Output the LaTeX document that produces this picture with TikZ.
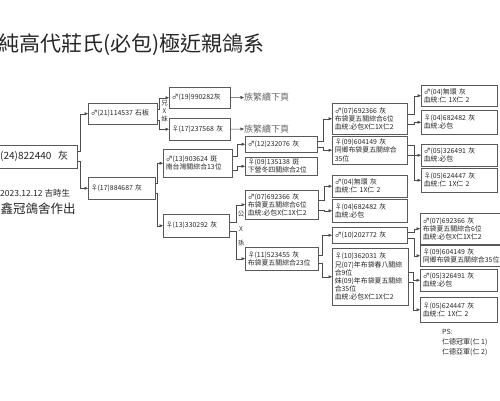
\documentclass[tikz,border=0pt]{standalone}
\usepackage{fontspec}
\setmainfont{Noto Sans CJK TC}
\usetikzlibrary{arrows.meta,calc}
\newcommand\mylink[4]{\draw[ar] ($(#1.east)+(0,#2)$) -| ($(#3.west)+(-#4,0)$) -- (#3.west);}
\begin{document}
\begin{tikzpicture}[x=1pt,y=-1pt,
 bx/.style={draw=black!65, line width=0.5pt, inner xsep=2.5pt, inner ysep=1pt, align=left, font=\fontsize{6.9}{8.2}\selectfont, anchor=north west, text=black!85},
 ln/.style={draw=black!70, line width=0.5pt},
 ar/.style={ln, -{Triangle[length=3.5pt,width=3pt]}},
 sm/.style={font=\fontsize{6.5}{8}\selectfont, inner sep=0pt, text=black!80},
 nx/.style={anchor=west, inner sep=0pt, font=\fontsize{9}{9}\selectfont, text=black!60}]
\useasboundingbox (0,0) rectangle (500,400);
\clip (0,0) rectangle (500,400);
\fill[white] (0,0) rectangle (500,400);

\node[anchor=west, font=\fontsize{21}{21}\selectfont, inner sep=0pt, text=black!85] (title) at (-1.5,45) {純高代莊氏(必包)極近親鴿系};

\node[bx, font=\fontsize{10}{10}\selectfont, inner xsep=3pt, text width=74pt, minimum height=23pt] (R) at (-3,145) {(24)822440\ \ 灰};
\node[anchor=west, font=\fontsize{8.5}{9}\selectfont, inner sep=0pt, text=black!85] (date) at (0,193) {2023.12.12 吉時生};
\node[anchor=west, font=\fontsize{12.5}{13}\selectfont, inner sep=0pt, text=black!85] (maker) at (0.5,209) {鑫冠鴿舍作出};

\node[bx, text width=64pt, minimum height=21pt] (A) at (88,103) {♂(21)114537 石板};
\node[bx, text width=62pt, minimum height=22pt] (B) at (88,177) {♀(17)884687 灰};

\node[bx, text width=56pt, minimum height=21pt] (C) at (169,87) {♂(19)990282灰};
\node[bx, text width=56pt, minimum height=22pt] (D) at (169,118) {♀(17)237568 灰};
\node[bx, text width=64pt, minimum height=28pt] (E) at (163,149) {♂(13)903624 斑\\南台灣關綜合13位};
\node[bx, text width=61pt, minimum height=23pt] (F) at (163,214) {♀(13)330292 灰};

\node[nx] (C2) at (244,97.5) {族繁續下頁};
\node[nx] (D2) at (244,129) {族繁續下頁};

\node[bx, text width=67pt, minimum height=16pt] (G) at (245,136) {♂(12)232076 灰};
\node[bx, text width=67pt, minimum height=18pt] (H) at (245,157) {♀(09)135138 斑\\下營冬四關綜合2位};
\node[bx, text width=68pt, minimum height=29pt] (I) at (245,190) {♂(07)692366 灰\\布袋夏五關綜合6位\\血統:必包X仁1X仁2};
\node[bx, text width=68pt, minimum height=23pt] (J) at (245,247) {♀(11)523455 灰\\布袋夏五關綜合23位};

\node[bx, text width=70pt, minimum height=31pt] (K) at (332,103) {♂(07)692366 灰\\布袋夏五關綜合6位\\血統:必包X仁1X仁2};
\node[bx, text width=70pt, minimum height=28pt] (L) at (332,136) {♀(09)604149 灰\\同鄉布袋夏五關綜合\\35位};
\node[bx, text width=70pt, minimum height=22pt] (M) at (332,175) {♂(04)無環 灰\\血統:仁 1X仁 2};
\node[bx, text width=70pt, minimum height=23pt] (N) at (332,199) {♀(04)682482 灰\\血統:必包};
\node[bx, text width=70pt, minimum height=16pt] (O) at (332,227) {♂(10)202772 灰};
\node[bx, text width=71pt, minimum height=57pt] (P) at (332,248) {♀(10)362031 灰\\兄(07)年布袋春八關綜\\合9位\\妹(09)年布袋夏五關綜\\合35位\\血統:必包X仁1X仁2};

\node[bx, text width=71pt, minimum height=21pt] (Q1) at (421,85) {♂(04)無環 灰\\血統:仁 1X仁 2};
\node[bx, text width=71pt, minimum height=24pt] (Q2) at (421,110) {♀(04)682482 灰\\血統:必包};
\node[bx, text width=71pt, minimum height=22pt] (Q3) at (421,144) {♂(05)326491 灰\\血統:必包};
\node[bx, text width=71pt, minimum height=24pt] (Q4) at (421,168) {♀(05)624447 灰\\血統:仁 1X仁 2};
\node[bx, text width=80pt, minimum height=31pt] (Q5) at (420,213) {♂(07)692366 灰\\布袋夏五關綜合6位\\血統:必包X仁1X仁2};
\node[bx, text width=80pt, minimum height=21pt] (Q6) at (420,245) {♀(09)604149 灰\\同鄉布袋夏五關綜合35位};
\node[bx, text width=72pt, minimum height=22pt] (Q7) at (420,269) {♂(05)326491 灰\\血統:必包};
\node[bx, text width=72pt, minimum height=25pt] (Q8) at (420,297) {♀(05)624447 灰\\血統:仁 1X仁 2};

\node[sm, align=center] (xm) at (164.5,111) {兄\\X\\妹};
\node[sm] (gs1) at (241,214) {公};
\node[sm] (gs2) at (241,229) {X};
\node[sm] (gs3) at (241,243) {孫};

\node[anchor=north west, align=left, inner sep=0pt, font=\fontsize{7}{10}\selectfont, text=black!85] (ps) at (442,329) {PS:\\仁德冠軍(仁 1)\\仁德亞軍(仁 2)};

\mylink{R}{-6}{A}{8}
\mylink{R}{4}{B}{8}
\mylink{A}{-5}{C}{9.5}
\mylink{A}{6}{D}{9.5}
\mylink{B}{-5}{E}{6}
\mylink{B}{5}{F}{6}
\draw[ar] (C.east) -- (C2.west);
\draw[ar] (D.east) -- (D2.west);
\mylink{E}{-7}{G}{8}
\mylink{E}{7}{H}{8}
\mylink{F}{-4}{I}{9}
\mylink{F}{5}{J}{9}
\mylink{G}{-3}{K}{9}
\mylink{G}{3}{L}{9}
\mylink{I}{-5}{M}{8}
\mylink{I}{5}{N}{8}
\mylink{J}{-4}{O}{10}
\mylink{J}{4}{P}{10}
\mylink{K}{-5}{Q1}{7}
\mylink{K}{5}{Q2}{7}
\mylink{L}{-5}{Q3}{7}
\mylink{L}{5}{Q4}{7}
\mylink{O}{-3}{Q5}{6}
\mylink{O}{3}{Q6}{6}
\mylink{P}{-5}{Q7}{7}
\mylink{P}{5}{Q8}{7}
\end{tikzpicture}
\end{document}
